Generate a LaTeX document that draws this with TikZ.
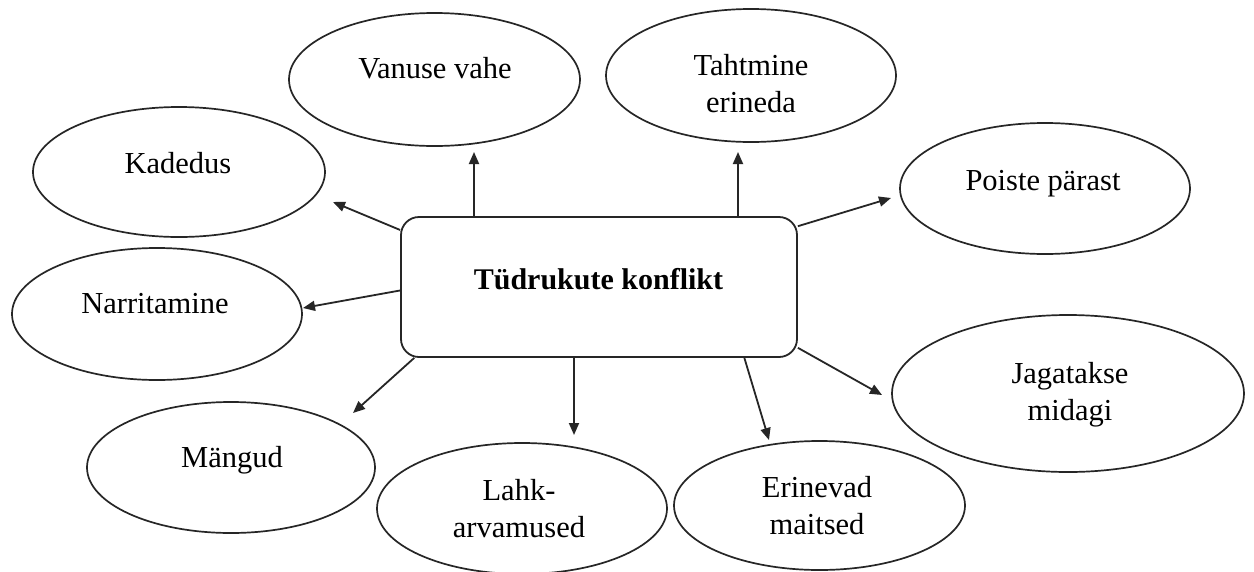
\documentclass[tikz,border=0pt]{standalone}
\usepackage{fontspec}
\setmainfont{Liberation Serif}
\usetikzlibrary{shapes.geometric,arrows.meta}
\begin{document}
\begin{tikzpicture}[x=1pt,y=-1pt,
  oval/.style={ellipse,draw=black!85,line width=1.7pt,inner sep=0pt},
  lbl/.style={anchor=base,align=center,inner sep=0pt,font=\fontsize{30.5}{37}\selectfont},
  arr/.style={draw=black!85,line width=1.8pt,-{Triangle[length=12pt,width=10pt]}}]
\useasboundingbox[fill=white] (0,0) rectangle (1254,571);
% central box
\node[draw=black!85,line width=1.8pt,rounded corners=18pt,minimum width=396pt,minimum height=140pt,inner sep=0pt] (box) at (599,287) {};
\node[lbl,font=\fontsize{30}{37}\selectfont\bfseries] (boxT) at (598.5,289) {Tüdrukute konflikt};
% ellipses
\node[oval,minimum width=291pt,minimum height=133pt] (vanuse) at (434.5,79.5) {};
\node[oval,minimum width=290pt,minimum height=133pt] (taht) at (751,75.5) {};
\node[oval,minimum width=292pt,minimum height=130pt] (kade) at (179,172) {};
\node[oval,minimum width=290pt,minimum height=131pt] (poiste) at (1045,188.5) {};
\node[oval,minimum width=290pt,minimum height=132pt] (narri) at (157,314) {};
\node[oval,minimum width=352pt,minimum height=157pt] (jaga) at (1068,393.5) {};
\node[oval,minimum width=288pt,minimum height=131pt] (mang) at (231,467.5) {};
\node[oval,minimum width=290pt,minimum height=131pt] (lahk) at (522,508.5) {};
\node[oval,minimum width=291pt,minimum height=129pt] (erin) at (819.5,505.5) {};
% labels (base anchor = baseline of the last line)
\node[lbl] (vanuseT) at (435,78) {Vanuse vahe};
\node[lbl] (tahtT) at (751,112) {Tahtmine\\erineda};
\node[lbl] (kadeT) at (178,173) {Kadedus};
\node[lbl] (poisteT) at (1043,190) {Poiste pärast};
\node[lbl] (narriT) at (155,313) {Narritamine};
\node[lbl] (jagaT) at (1070,420) {Jagatakse\\midagi};
\node[lbl] (mangT) at (232,467) {Mängud};
\node[lbl] (lahkT) at (519,537) {Lahk-\\arvamused};
\node[lbl] (erinT) at (817,534) {Erinevad\\maitsed};
% arrow tips
\coordinate (tVan) at (474,152);
\coordinate (tTaht) at (738,152);
\coordinate (tKade) at (333,202);
\coordinate (tNarri) at (303,308);
\coordinate (tPoiste) at (891,198);
\coordinate (tJaga) at (882,395);
\coordinate (tMang) at (353,413);
\coordinate (tLahk) at (574,435);
\coordinate (tErin) at (769,440);
% connectors
\draw[arr] (box.north -| tVan) -- (tVan);
\draw[arr] (box.north -| tTaht) -- (tTaht);
\draw[arr] (box.164) -- (tKade);
\draw[arr] (box.181) -- (tNarri);
\draw[arr] (box.17) -- (tPoiste);
\draw[arr] (box.343) -- (tJaga);
\draw[arr] (box.201) -- (tMang);
\draw[arr] (box.south -| tLahk) -- (tLahk);
\draw[arr] (box.334) -- (tErin);
\end{tikzpicture}
\end{document}
